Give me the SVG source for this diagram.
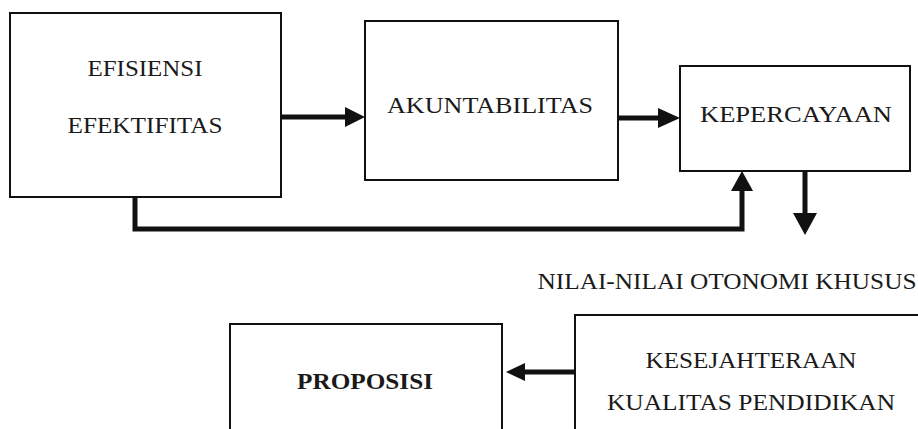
<svg xmlns="http://www.w3.org/2000/svg" width="918" height="429" viewBox="0 0 918 429">
<style>
.box{fill:#fff;stroke:#111;stroke-width:2}
.t{font-family:"Liberation Serif","Times New Roman",serif;font-size:24px;fill:#1a1a1a;text-anchor:middle}
.b{font-weight:bold}
.ln{fill:none;stroke:#111;stroke-width:5}
.hd{fill:#111;stroke:none}
</style>
<rect width="918" height="429" fill="#fff"/>
<g id="efisiensi">
<rect class="box" x="10" y="13" width="271" height="184"/>
<text class="t" x="145" y="76" textLength="115" lengthAdjust="spacingAndGlyphs">EFISIENSI</text>
<text class="t" x="145" y="133" textLength="155" lengthAdjust="spacingAndGlyphs">EFEKTIFITAS</text>
</g>
<g id="akuntabilitas">
<rect class="box" x="365" y="21" width="253" height="159"/>
<text class="t" x="490" y="113" textLength="206" lengthAdjust="spacingAndGlyphs">AKUNTABILITAS</text>
</g>
<g id="kepercayaan">
<rect class="box" x="680" y="66" width="230" height="105"/>
<text class="t" x="796" y="122" textLength="192" lengthAdjust="spacingAndGlyphs">KEPERCAYAAN</text>
</g>
<g id="nilai">
<text class="t" x="727" y="289" textLength="379" lengthAdjust="spacingAndGlyphs">NILAI-NILAI OTONOMI KHUSUS</text>
</g>
<g id="kesejahteraan">
<rect class="box" x="575" y="315" width="360" height="130"/>
<text class="t" x="751" y="368" textLength="211" lengthAdjust="spacingAndGlyphs">KESEJAHTERAAN</text>
<text class="t" x="751" y="410" textLength="288" lengthAdjust="spacingAndGlyphs">KUALITAS PENDIDIKAN</text>
</g>
<g id="proposisi">
<rect class="box" x="230" y="324" width="272" height="130"/>
<text class="t b" x="365" y="389" textLength="136" lengthAdjust="spacingAndGlyphs">PROPOSISI</text>
</g>
<g id="connectors">
<line class="ln" x1="282" y1="117" x2="347" y2="117"/>
<polygon class="hd" points="345,107 365,117 345,127"/>
<line class="ln" x1="619" y1="118" x2="660" y2="118"/>
<polygon class="hd" points="658,108 680,118 658,128"/>
<polyline class="ln" points="135,198 135,229 742,229 742,188"/>
<polygon class="hd" points="731,191 742,171 753,191"/>
<line class="ln" x1="805" y1="172" x2="805" y2="215"/>
<polygon class="hd" points="793,213 805,235 817,213"/>
<line class="ln" x1="575" y1="372" x2="523" y2="372"/>
<polygon class="hd" points="525,363 506,372 525,381"/>
</g>
</svg>
